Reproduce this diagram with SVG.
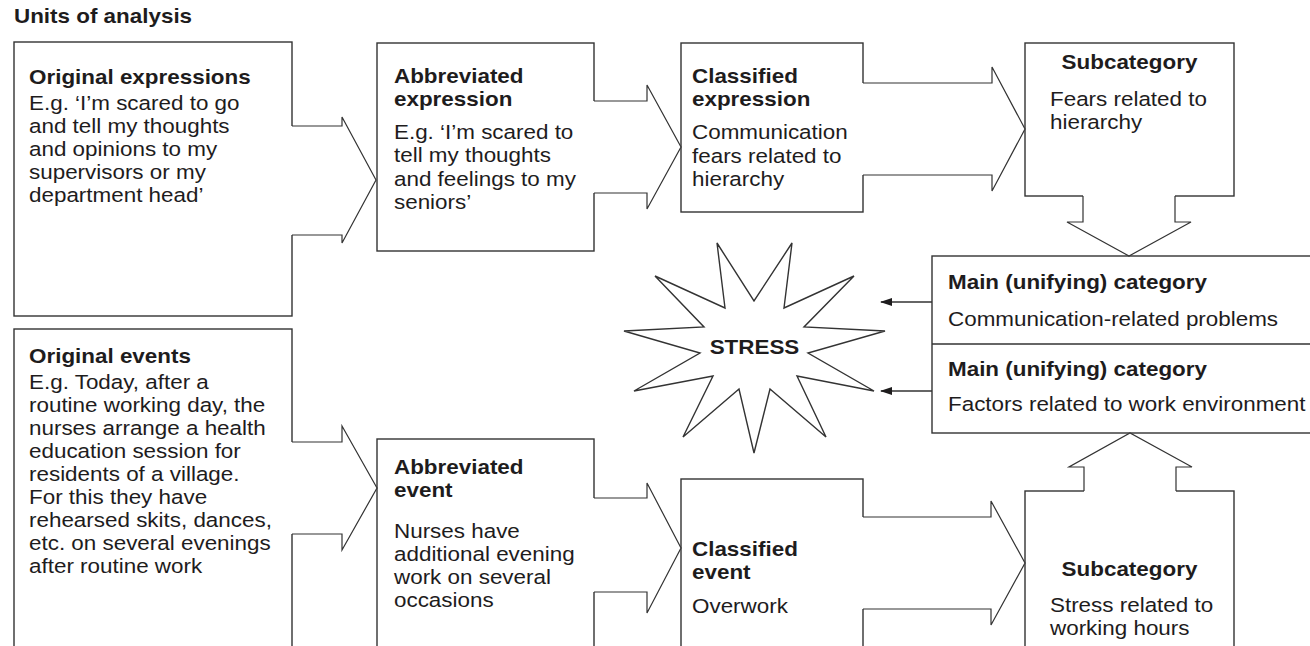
<svg xmlns="http://www.w3.org/2000/svg" width="1310" height="646" viewBox="0 0 1310 646">
<defs>
<style>
.box{fill:#fff;stroke:#333;stroke-width:1.4}
.fillw{fill:#fff;stroke:none}
.out{fill:none;stroke:#333;stroke-width:1.2;stroke-linejoin:miter}
.t{font-family:"Liberation Sans",Arial,sans-serif;font-weight:bold;font-size:19.5px;fill:#1e1c1d}
.b{font-family:"Liberation Sans",Arial,sans-serif;font-size:19.5px;fill:#1e1c1d}
.ln{stroke:#333;stroke-width:1.4;fill:none}
</style>
<marker id="ah" markerWidth="12" markerHeight="8" refX="11" refY="4" orient="auto" markerUnits="userSpaceOnUse">
<path d="M0,0 L12,4 L0,8 Z" fill="#1e1c1d"/>
</marker>
</defs>
<rect width="1310" height="646" fill="#fff"/>

<g id="heading"><g transform="scale(1.15 1)"><text class="t" x="12.17" y="23.5">Units of analysis</text></g></g>

<g id="original-expressions">
<rect class="box" x="14" y="42" width="278" height="274"/>
<g transform="scale(1.15 1)">
<text class="t" x="25.22" y="84">Original expressions</text>
<text class="b" x="25.22" y="110">E.g. ‘I’m scared to go</text>
<text class="b" x="25.22" y="133">and tell my thoughts</text>
<text class="b" x="25.22" y="156">and opinions to my</text>
<text class="b" x="25.22" y="179">supervisors or my</text>
<text class="b" x="25.22" y="202">department head’</text>
</g>
</g>

<g id="abbreviated-expression">
<rect class="box" x="377" y="43" width="217" height="208"/>
<g transform="scale(1.15 1)">
<text class="t" x="342.61" y="83.5">Abbreviated</text>
<text class="t" x="342.61" y="106.5">expression</text>
<text class="b" x="342.61" y="139.5">E.g. ‘I’m scared to</text>
<text class="b" x="342.61" y="162.5">tell my thoughts</text>
<text class="b" x="342.61" y="186">and feelings to my</text>
<text class="b" x="342.61" y="209.5">seniors’</text>
</g>
</g>

<g id="classified-expression">
<rect class="box" x="681" y="43" width="182" height="169"/>
<g transform="scale(1.15 1)">
<text class="t" x="601.74" y="83.5">Classified</text>
<text class="t" x="601.74" y="106.5">expression</text>
<text class="b" x="601.74" y="139.5">Communication</text>
<text class="b" x="601.74" y="163">fears related to</text>
<text class="b" x="601.74" y="186.5">hierarchy</text>
</g>
</g>

<g id="subcategory-top">
<rect class="box" x="1025" y="43" width="209" height="153"/>
<g transform="scale(1.15 1)">
<text class="t" x="982.17" y="69.5" text-anchor="middle">Subcategory</text>
<text class="b" x="913.04" y="106.5">Fears related to</text>
<text class="b" x="913.04" y="129.5">hierarchy</text>
</g>
</g>

<g id="main-categories">
<rect class="box" x="932" y="256" width="400" height="177"/>
<line class="ln" x1="932" y1="344" x2="1320" y2="344"/>
<g transform="scale(1.15 1)">
<text class="t" x="824.35" y="289.5">Main (unifying) category</text>
<text class="b" x="824.35" y="326.5">Communication-related problems</text>
<text class="t" x="824.35" y="376.5">Main (unifying) category</text>
<text class="b" x="824.35" y="411.5">Factors related to work environment</text>
</g>
</g>

<g id="stress">
<polygon class="box" points="717,243 754,301 792,243 784,308 854,276 804,327 885,331 808,353 874,391 797,376 826,437 770,389 754,453 739,389 683,437 713,376 634,391 700,353 624,331 704,327 655,276 725,308"/>
<g transform="scale(1.15 1)"><text class="t" x="656.09" y="354" text-anchor="middle">STRESS</text></g>
</g>

<g id="original-events">
<rect class="box" x="14" y="329" width="278" height="330"/>
<g transform="scale(1.15 1)">
<text class="t" x="25.22" y="363.5">Original events</text>
<text class="b" x="25.22" y="389.5">E.g. Today, after a</text>
<text class="b" x="25.22" y="412.5">routine working day, the</text>
<text class="b" x="25.22" y="435.5">nurses arrange a health</text>
<text class="b" x="25.22" y="458.5">education session for</text>
<text class="b" x="25.22" y="481.5">residents of a village.</text>
<text class="b" x="25.22" y="504.5">For this they have</text>
<text class="b" x="25.22" y="527.5">rehearsed skits, dances,</text>
<text class="b" x="25.22" y="550.5">etc. on several evenings</text>
<text class="b" x="25.22" y="573.5">after routine work</text>
</g>
</g>

<g id="abbreviated-event">
<rect class="box" x="377" y="439" width="217" height="220"/>
<g transform="scale(1.15 1)">
<text class="t" x="342.61" y="474.5">Abbreviated</text>
<text class="t" x="342.61" y="497.5">event</text>
<text class="b" x="342.61" y="538.5">Nurses have</text>
<text class="b" x="342.61" y="561.5">additional evening</text>
<text class="b" x="342.61" y="584.5">work on several</text>
<text class="b" x="342.61" y="607.5">occasions</text>
</g>
</g>

<g id="classified-event">
<rect class="box" x="681" y="479" width="182" height="180"/>
<g transform="scale(1.15 1)">
<text class="t" x="601.74" y="556.5">Classified</text>
<text class="t" x="601.74" y="579.5">event</text>
<text class="b" x="601.74" y="613.5">Overwork</text>
</g>
</g>

<g id="subcategory-bottom">
<rect class="box" x="1025" y="491" width="209" height="170"/>
<g transform="scale(1.15 1)">
<text class="t" x="982.17" y="576.5" text-anchor="middle">Subcategory</text>
<text class="b" x="913.04" y="612.5">Stress related to</text>
<text class="b" x="913.04" y="635.5">working hours</text>
</g>
</g>

<g id="connectors">
<polygon class="fillw" points="290,126 342,126 342,117 376,180 342,243 342,235 290,235"/>
<polyline class="out" points="292,126 342,126 342,117 376,180 342,243 342,235 292,235"/>
<polygon class="fillw" points="592,101 647,101 647,85 681,147 647,209 647,193 592,193"/>
<polyline class="out" points="594,101 647,101 647,85 681,147 647,209 647,193 594,193"/>
<polygon class="fillw" points="861,83 992,83 992,67 1025,129 992,191 992,175 861,175"/>
<polyline class="out" points="863,83 992,83 992,67 1025,129 992,191 992,175 863,175"/>
<polygon class="fillw" points="290,442 342,442 342,426 377,488 342,550 342,534 290,534"/>
<polyline class="out" points="292,442 342,442 342,426 377,488 342,550 342,534 292,534"/>
<polygon class="fillw" points="592,498 647,498 647,483 681,548 647,613 647,592 592,592"/>
<polyline class="out" points="594,498 647,498 647,483 681,548 647,613 647,592 594,592"/>
<polygon class="fillw" points="861,517 991,517 991,501 1025,563 991,625 991,609 861,609"/>
<polyline class="out" points="863,517 991,517 991,501 1025,563 991,625 991,609 863,609"/>
<polygon class="fillw" points="1083,194 1083,222 1067,222 1129,256 1191,222 1175,222 1175,194"/>
<polyline class="out" points="1083,196 1083,222 1067,222 1129,256 1191,222 1175,222 1175,196"/>
<polygon class="fillw" points="1084,493 1084,467 1069,467 1130,433 1192,467 1176,467 1176,493"/>
<polyline class="out" points="1084,491 1084,467 1069,467 1130,433 1192,467 1176,467 1176,491"/>
<line class="ln" x1="932" y1="302" x2="881" y2="302" marker-end="url(#ah)"/>
<line class="ln" x1="932" y1="391" x2="881" y2="391" marker-end="url(#ah)"/>
</g>
</svg>
